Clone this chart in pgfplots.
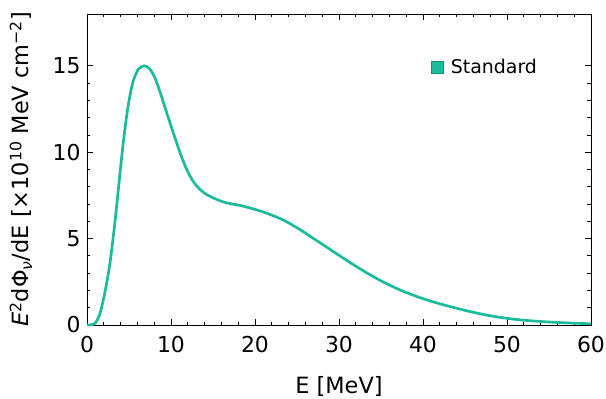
\documentclass[border=0pt]{standalone}
\usepackage{fontspec}
\setmainfont{DejaVu Sans}
\usepackage{pgfplots}
\pgfplotsset{compat=1.18}
\definecolor{teal1}{HTML}{1ABC9C}
\definecolor{teal2}{HTML}{148F76}
\begin{document}
\begin{tikzpicture}[x=1bp,y=1bp]
\begin{axis}[
  scale only axis,
  width=504bp, height=311bp,
  xmin=0, xmax=60, ymin=0, ymax=18,
  xtick={0,10,...,60}, ytick={0,5,10,15},
  minor x tick num=4, minor y tick num=4,
  tick align=inside, tick pos=both,
  major tick length=6bp, minor tick length=3.5bp,
  every tick/.style={black, line width=0.8pt},
  axis line style={line width=0.8pt},
  /pgf/number format/assume math mode=true,
  tick label style={font=\fontsize{22}{26}\selectfont},
  xticklabel style={anchor=north, yshift=-8bp},
  yticklabel style={anchor=east, xshift=-3bp},
  xlabel={E [MeV]},
  ylabel={\textit{E}\textsuperscript{2}dΦ\textsubscript{\textit{ν}}/dE [×10\textsuperscript{10} MeV cm\textsuperscript{−2}]},
  label style={font=\fontsize{22.5}{26}\selectfont},
  xlabel style={at={(axis description cs:0.5,-0.221)}, anchor=base},
  ylabel style={at={(axis description cs:-0.1151,0.5)}, anchor=base, rotate=0},
  legend style={draw=none, fill=none, inner sep=0pt, at={(0.6825,0.8296)}, anchor=west, font=\fontsize{19}{22}\selectfont},
  legend cell align=left,
  legend image code/.code={\draw[fill=teal1, draw=teal2, line width=0.7pt] (0bp,-6bp) rectangle (12bp,6bp);},
]
\addplot[teal1, line width=2.7pt, smooth] coordinates {
(0,0) (0.5,0.01) (1.0,0.12) (1.5,0.6) (1.94,1.45) (2.34,2.42) (2.74,3.6) (3.13,5.13) (3.53,6.88) (3.93,8.8) (4.33,10.6) (4.72,12.1) (5.12,13.3) (5.52,14.15) (6.1,14.8) (6.8,15.0) (7.4,14.85) (8.0,14.4) (8.69,13.5) (9.48,12.3) (10.28,11.12) (11.07,9.98) (11.86,9.01) (12.66,8.3) (13.45,7.85) (14.24,7.55) (15.43,7.27) (16.62,7.07) (18.21,6.92) (19.8,6.72) (21.4,6.47) (23.4,6.07) (25.36,5.52) (27.3,4.9) (29.3,4.26) (31.3,3.62) (33.3,3.02) (35.3,2.48) (37.26,2.03) (39.25,1.65) (41.2,1.34) (43.2,1.07) (45.4,0.8) (47.6,0.57) (49.5,0.42) (51.5,0.3) (53.5,0.22) (55.5,0.16) (57.7,0.11) (60,0.07)
};
\addlegendentry{\hspace{5bp}Standard}
\end{axis}
\pgfresetboundingbox
\path (-87bp,-74bp) rectangle (519bp,325bp);
\end{tikzpicture}
\end{document}
